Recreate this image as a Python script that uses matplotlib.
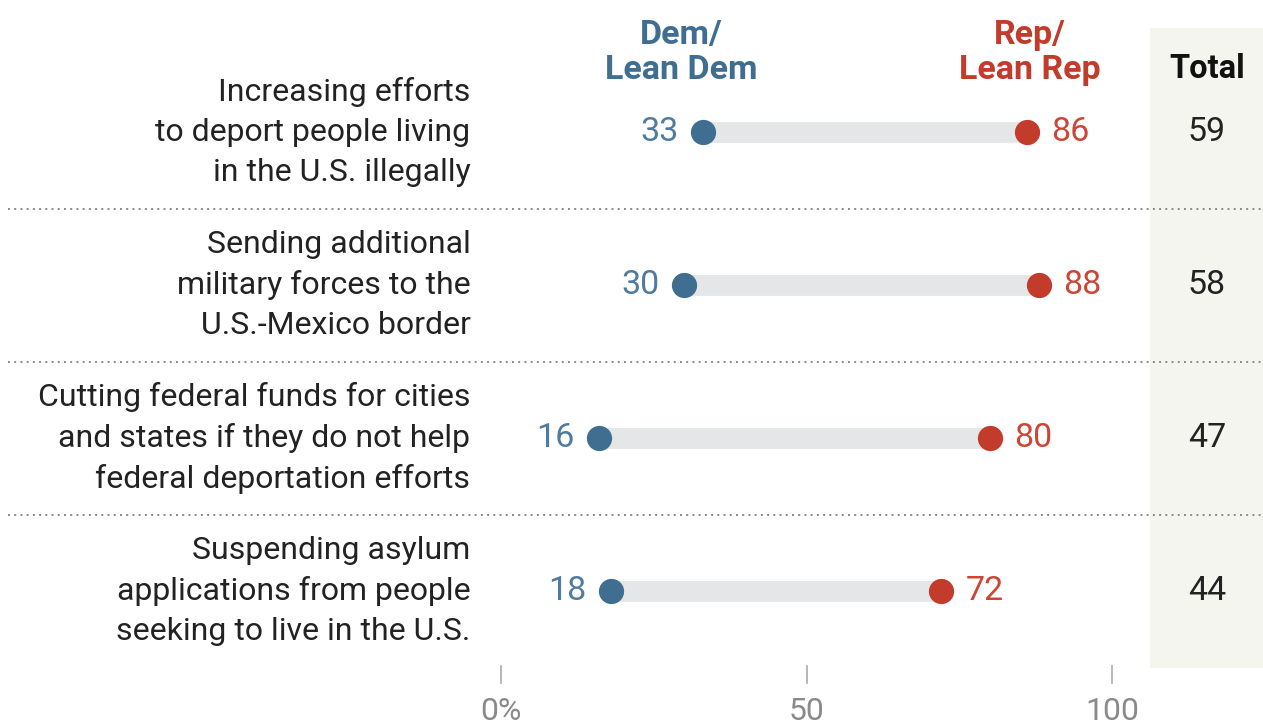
import numpy as np
import matplotlib.pyplot as plt

plt.rcParams['font.family'] = ['Roboto', 'DejaVu Sans']

# data
categories = [
    "Increasing efforts\nto deport people living\nin the U.S. illegally",
    "Sending additional\nmilitary forces to the\nU.S.-Mexico border",
    "Cutting federal funds for cities\nand states if they do not help\nfederal deportation efforts",
    "Suspending asylum\napplications from people\nseeking to live in the U.S.",
]
dem = [33, 30, 16, 18]
rep = [86, 88, 80, 72]
total = [59, 58, 47, 44]
tick_vals = [0, 50, 100]
tick_labels = ["0%", "50", "100"]

DEM_C = "#3f6e91"
REP_C = "#c23b2b"
BAR_C = "#e5e6e7"
SHADE_C = "#f5f5f0"

fig = plt.figure(figsize=(12.63, 7.26), dpi=100)
ax = fig.add_axes([0, 0, 1, 1])
ax.set_xlim(-82.0, 124.7)
ax.set_ylim(3.882, -0.863)
ax.axis("off")

y = np.arange(len(categories))

# shaded total column
ax.axvspan(106.2, 124.7, ymin=(3.882 - 3.503) / (3.882 + 0.863),
           ymax=(3.882 + 0.68) / (3.882 + 0.863), color=SHADE_C, zorder=0, lw=0)

# connecting bars
ax.hlines(y, dem, rep, color=BAR_C, lw=15, zorder=1)
ax.scatter(dem, y, s=330, color=DEM_C, zorder=3, lw=0)
ax.scatter(rep, y, s=330, color=REP_C, zorder=3, lw=0)

off = 4.0
for i in range(len(categories)):
    ax.text(dem[i] - off, y[i], str(dem[i]), ha="right", va="center",
            fontsize=24.5, color="#4f7ba0")
    ax.text(rep[i] + off, y[i], str(rep[i]), ha="left", va="center",
            fontsize=24.5, color="#cc4535")
    ax.text(115.5, y[i], str(total[i]), ha="center", va="center",
            fontsize=24.5, color="#222222")
    ax.text(-5.0, y[i], categories[i], ha="right", va="center",
            fontsize=23, color="#222222", linespacing=1.46)

# dotted separators
for i in range(len(categories) - 1):
    ax.plot([-80.7, 124.7], [i + 0.5, i + 0.5], color="#8a8a8a",
            lw=1.4, ls=(0, (1, 2.2)), zorder=2)

# headers
ax.text(29.5, -0.52, "Dem/\nLean Dem", ha="center", va="center",
        fontsize=24.5, fontweight="bold", color=DEM_C, linespacing=1.12)
ax.text(86.5, -0.52, "Rep/\nLean Rep", ha="center", va="center",
        fontsize=24.5, fontweight="bold", color=REP_C, linespacing=1.12)
ax.text(115.5, -0.415, "Total", ha="center", va="center",
        fontsize=23.5, fontweight="bold", color="#111111")

# axis ticks
for v, lab in zip(tick_vals, tick_labels):
    ax.plot([v, v], [3.49, 3.60], color="#aaaaaa", lw=1.2)
    ax.text(v, 3.79, lab, ha="center", va="center", fontsize=23, color="#8a8a8a")

fig.savefig("out.png", dpi=100)
